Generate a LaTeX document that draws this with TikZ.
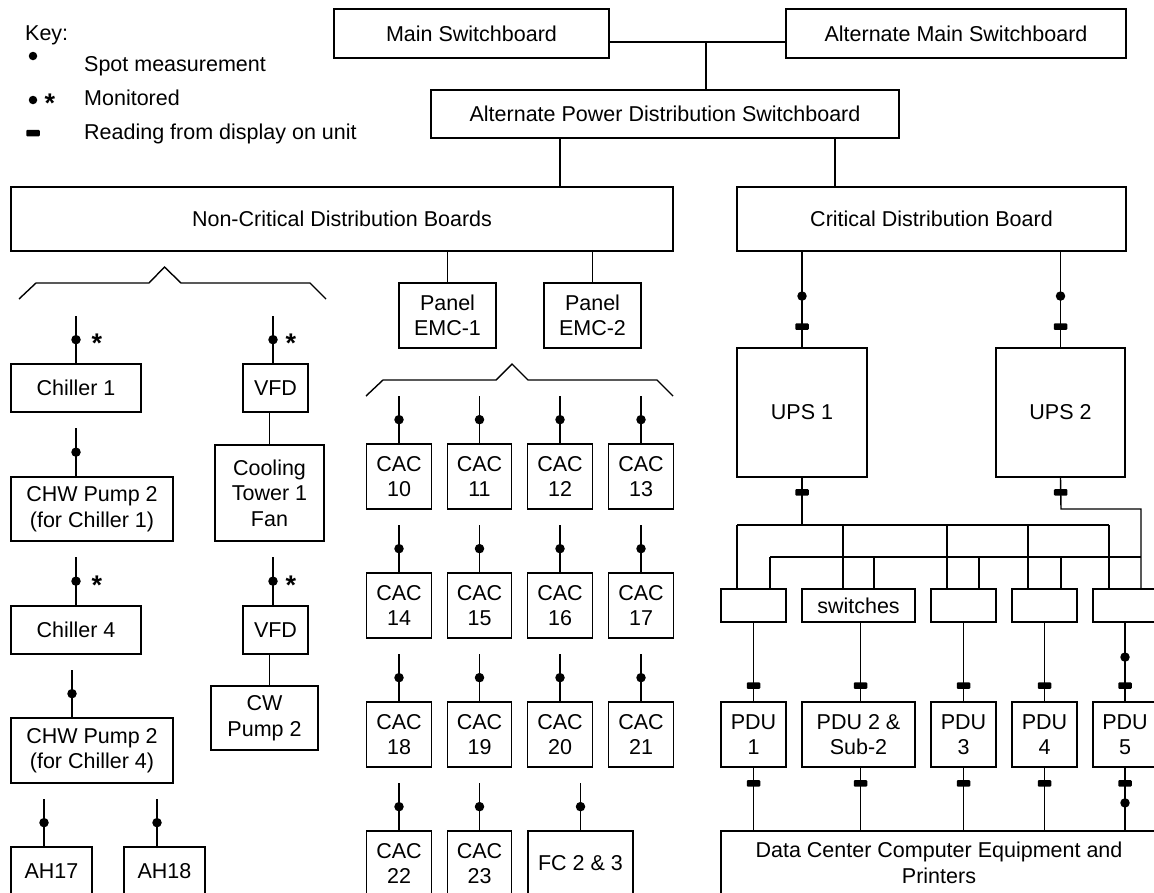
\documentclass[tikz,border=0pt]{standalone}
\usepackage{fontspec}
\setmainfont{Liberation Sans}
\newcommand\fnt{\fontsize{21.5}{25.5}\selectfont}
\newcommand\afnt{\fontsize{27}{30}\selectfont\bfseries}
\begin{document}
\begin{tikzpicture}[x=1pt,y=-1pt,
  box/.style={draw, line width=1.4pt, inner sep=0pt, align=center, font=\fnt},
  wire/.style={line width=1.4pt},
  dot/.style={circle, fill, inner sep=0pt, minimum size=9.5pt},
  meter/.style={rectangle, fill, inner sep=0pt, minimum width=13.5pt, minimum height=6.5pt, rounded corners=1pt},
  txt/.style={inner sep=0pt, font=\fnt},
  astk/.style={inner sep=0pt, font=\afnt, anchor=base}]
\useasboundingbox (0,0) rectangle (1154,892);

% ---------- key ----------
\node[txt, anchor=base west] (keyt) at (25,40.5) {Key:};
\node[dot, minimum size=8.5pt] (kd1) at (33,56) {};
\node[txt, anchor=base west] (k1) at (84,71.5) {Spot measurement};
\node[dot, minimum size=8.5pt] (kd2) at (33,100) {};
\node[astk] (ks) at (50,112.5) {*};
\node[txt, anchor=base west] (k2) at (84,105.5) {Monitored};
\node[meter] (km) at (33,133) {};
\node[txt, anchor=base west] (k3) at (84,139.5) {Reading from display on unit};

% ---------- top ----------
\node[box, minimum width=275pt, minimum height=49pt] (msb) at (471.5,33.5) {Main Switchboard};
\node[box, minimum width=340pt, minimum height=49pt] (amsb) at (956,33.5) {Alternate Main Switchboard};
\node[box, minimum width=468pt, minimum height=48pt] (apds) at (665,114) {Alternate Power Distribution Switchboard};
\node[box, minimum width=662pt, minimum height=64pt] (ncdb) at (342,219) {Non-Critical Distribution Boards};
\node[box, minimum width=389pt, minimum height=64pt] (cdb) at (931.5,219) {Critical Distribution Board};

\coordinate (j0) at (706,42);
\draw[wire] (msb.east |- j0) -- (amsb.west |- j0);
\draw[wire] (j0) -- (j0 |- apds.north);
\coordinate (ja) at (560,138);
\coordinate (jb) at (835,138);
\draw[wire] (ja) -- (ja |- ncdb.north);
\draw[wire] (jb) -- (jb |- cdb.north);

% ---------- panels ----------
\node[box, minimum width=97pt, minimum height=65pt] (emc1) at (447.5,315.5) {Panel\\EMC-1};
\node[box, minimum width=97pt, minimum height=65pt] (emc2) at (592.5,315.5) {Panel\\EMC-2};
\draw[wire] (emc1.north |- ncdb.south) -- (emc1.north);
\draw[wire] (emc2.north |- ncdb.south) -- (emc2.north);

% ---------- brackets ----------
\draw[wire] (19,299) -- (36,283) -- (149,283) -- (164.5,267) -- (181,283) -- (310,283) -- (326,299);
\draw[wire] (366,396) -- (383,380) -- (496,380) -- (512,364) -- (528,380) -- (657,380) -- (673,396);

% ---------- left column ----------
\node[box, minimum width=130pt, minimum height=48pt] (ch1) at (76,388) {Chiller 1};
\node[box, minimum width=65pt, minimum height=48pt] (vfd1) at (275.5,388) {VFD};
\node[box, minimum width=109pt, minimum height=96pt] (ct) at (269.5,493) {Cooling\\Tower 1\\Fan};
\node[box, minimum width=162pt, minimum height=64pt] (chw1) at (92,509) {CHW Pump 2\\(for Chiller 1)};
\node[box, minimum width=130pt, minimum height=48pt] (ch4) at (76,630) {Chiller 4};
\node[box, minimum width=65pt, minimum height=48pt] (vfd2) at (275.5,630) {VFD};
\node[box, minimum width=107pt, minimum height=64pt] (cw) at (264.5,718) {CW\\Pump 2};
\node[box, minimum width=162pt, minimum height=65pt] (chw4) at (92,750.5) {CHW Pump 2\\(for Chiller 4)};
\node[box, minimum width=81pt, minimum height=48pt] (ah17) at (51.5,871) {AH17};
\node[box, minimum width=81pt, minimum height=48pt] (ah18) at (164.5,871) {AH18};

\coordinate (fch1) at (76,316);
\coordinate (fvf1) at (273,316);
\coordinate (fcw1) at (76,428);
\coordinate (fch4) at (76,557);
\coordinate (fvf2) at (273,557);
\coordinate (fcw4) at (72,670);
\coordinate (fa17) at (44,799);
\coordinate (fa18) at (157,799);

\draw[wire] (fch1) -- node[dot](dch1){} (fch1 |- ch1.north);
\node[astk] (sch1) at (97,352.5) {*};
\draw[wire] (fvf1) -- node[dot](dvf1){} (fvf1 |- vfd1.north);
\node[astk] (svf1) at (291,352.5) {*};
\draw[wire] (ct.north |- vfd1.south) -- (ct.north);
\draw[wire] (fcw1) -- node[dot](dcw1){} (fcw1 |- chw1.north);
\draw[wire] (fch4) -- node[dot](dch4){} (fch4 |- ch4.north);
\node[astk] (sch4) at (97,594.5) {*};
\draw[wire] (fvf2) -- node[dot](dvf2){} (fvf2 |- vfd2.north);
\node[astk] (svf2) at (291,594.5) {*};
\draw[wire] ([xshift=-6pt]vfd2.south) -- ([xshift=-6pt]vfd2.south |- cw.north);
\draw[wire] (fcw4) -- node[dot](dcw4){} (fcw4 |- chw4.north);
\draw[wire] (fa17) -- node[dot](da17){} (fa17 |- ah17.north);
\draw[wire] (fa18) -- node[dot](da18){} (fa18 |- ah18.north);

% ---------- CAC grid ----------
\foreach \r/\y in {0/476.5,1/605.5,2/734.5}{
  \foreach \c/\x in {0/399,1/479.5,2/560,3/641}{
    \pgfmathtruncatemacro\cn{10+4*\r+\c}
    \node[box, minimum width=64.5pt, minimum height=65pt] (cac\cn) at (\x,\y) {CAC\\\cn};
    \coordinate (fcac\cn) at (\x,\y-80.5);
    \draw[wire] (fcac\cn) -- node[dot](dcac\cn){} (cac\cn.north);
  }
}
\node[box, minimum width=64.5pt, minimum height=65pt] (cac22) at (399,863.5) {CAC\\22};
\node[box, minimum width=64.5pt, minimum height=65pt] (cac23) at (479.5,863.5) {CAC\\23};
\node[box, minimum width=105pt, minimum height=65pt] (fc) at (580.5,863.5) {FC 2 \& 3};
\coordinate (fcac22) at (399,783);
\coordinate (fcac23) at (479.5,783);
\coordinate (ffc) at (580.5,783);
\draw[wire] (fcac22) -- node[dot](dcac22){} (cac22.north);
\draw[wire] (fcac23) -- node[dot](dcac23){} (cac23.north);
\draw[wire] (ffc) -- node[dot](dfc){} (fc.north);

% ---------- critical side ----------
\node[box, minimum width=130pt, minimum height=129pt] (ups1) at (802,412.5) {UPS 1};
\node[box, minimum width=129pt, minimum height=129pt] (ups2) at (1060.5,412.5) {UPS 2};
\draw[wire] (cdb.south -| ups1.north) -- node[dot,pos=0.464](du1){} node[meter,pos=0.784](mu1){} (ups1.north);
\draw[wire] (cdb.south -| ups2.north) -- node[dot,pos=0.464](du2){} node[meter,pos=0.784](mu2){} (ups2.north);

\node[box, minimum width=65pt, minimum height=33pt] (sb1) at (753.5,605.5) {};
\node[box, minimum width=113pt, minimum height=33pt] (sb2) at (858.5,605.5) {switches};
\node[box, minimum width=65pt, minimum height=33pt] (sb3) at (963.5,605.5) {};
\node[box, minimum width=65pt, minimum height=33pt] (sb4) at (1044.5,605.5) {};
\node[box, minimum width=64pt, minimum height=33pt] (sb5) at (1125,605.5) {};

% upper bus (UPS 1)
\coordinate (ut1) at (737,525);
\coordinate (ut2) at (843,525);
\coordinate (ut3) at (947,525);
\coordinate (ut4) at (1028,525);
\coordinate (ut5) at (1109,525);
\draw[wire] (ups1.south) -- node[meter,pos=0.3125](mu1b){} (ups1.south |- ut1);
\draw[wire] (ut1) -- (ut5);
\draw[wire] (ut1) -- (ut1 |- sb1.north);
\draw[wire] (ut2) -- (ut2 |- sb2.north);
\draw[wire] (ut3) -- (ut3 |- sb3.north);
\draw[wire] (ut4) -- (ut4 |- sb4.north);
\draw[wire] (ut5) -- (ut5 |- sb5.north);

% lower bus (UPS 2)
\coordinate (u2c) at (1061,509);
\coordinate (u2r) at (1141,509);
\coordinate (lt1) at (770,557);
\coordinate (lt2) at (874,557);
\coordinate (lt3) at (979,557);
\coordinate (lt4) at (1061,557);
\coordinate (lt5) at (1141,557);
\draw[wire] (ups2.south) -- node[meter,pos=0.469](mu2b){} (u2c) -- (u2r) -- (u2r |- sb5.north);
\draw[wire] (lt1) -- (lt5);
\draw[wire] (lt1) -- (lt1 |- sb1.north);
\draw[wire] (lt2) -- (lt2 |- sb2.north);
\draw[wire] (lt3) -- (lt3 |- sb3.north);
\draw[wire] (lt4) -- (lt4 |- sb4.north);

% PDUs
\node[box, minimum width=65pt, minimum height=65pt] (pdu1) at (753.5,734.5) {PDU\\1};
\node[box, minimum width=113pt, minimum height=65pt] (pdu2) at (858.5,734.5) {PDU 2 \&\\Sub-2};
\node[box, minimum width=65pt, minimum height=65pt] (pdu3) at (963.5,734.5) {PDU\\3};
\node[box, minimum width=65pt, minimum height=65pt] (pdu4) at (1044.5,734.5) {PDU\\4};
\node[box, minimum width=64pt, minimum height=65pt] (pdu5) at (1125,734.5) {PDU\\5};
\node[box, minimum width=436pt, minimum height=64pt] (dc) at (939,863) {Data Center Computer Equipment and\\Printers};

\draw[wire] (sb1.south) -- node[meter,pos=0.8](mp1a){} (pdu1.north);
\draw[wire] ([xshift=2pt]sb2.south) -- node[meter,pos=0.8](mp2a){} ([xshift=2pt]pdu2.north);
\draw[wire] (sb3.south) -- node[meter,pos=0.8](mp3a){} (pdu3.north);
\draw[wire] (sb4.south) -- node[meter,pos=0.8](mp4a){} (pdu4.north);
\draw[wire] (sb5.south) -- node[dot,pos=0.4375](dp5a){} node[meter,pos=0.8](mp5a){} (pdu5.north);

\draw[wire] (pdu1.south) -- node[meter,pos=0.25](mp1b){} (pdu1.south |- dc.north);
\draw[wire] ([xshift=2pt]pdu2.south) -- node[meter,pos=0.25](mp2b){} ([xshift=2pt]pdu2.south |- dc.north);
\draw[wire] (pdu3.south) -- node[meter,pos=0.25](mp3b){} (pdu3.south |- dc.north);
\draw[wire] (pdu4.south) -- node[meter,pos=0.25](mp4b){} (pdu4.south |- dc.north);
\draw[wire] (pdu5.south) -- node[meter,pos=0.25](mp5b){} node[dot,pos=0.5625](dp5b){} (pdu5.south |- dc.north);
\end{tikzpicture}
\end{document}
